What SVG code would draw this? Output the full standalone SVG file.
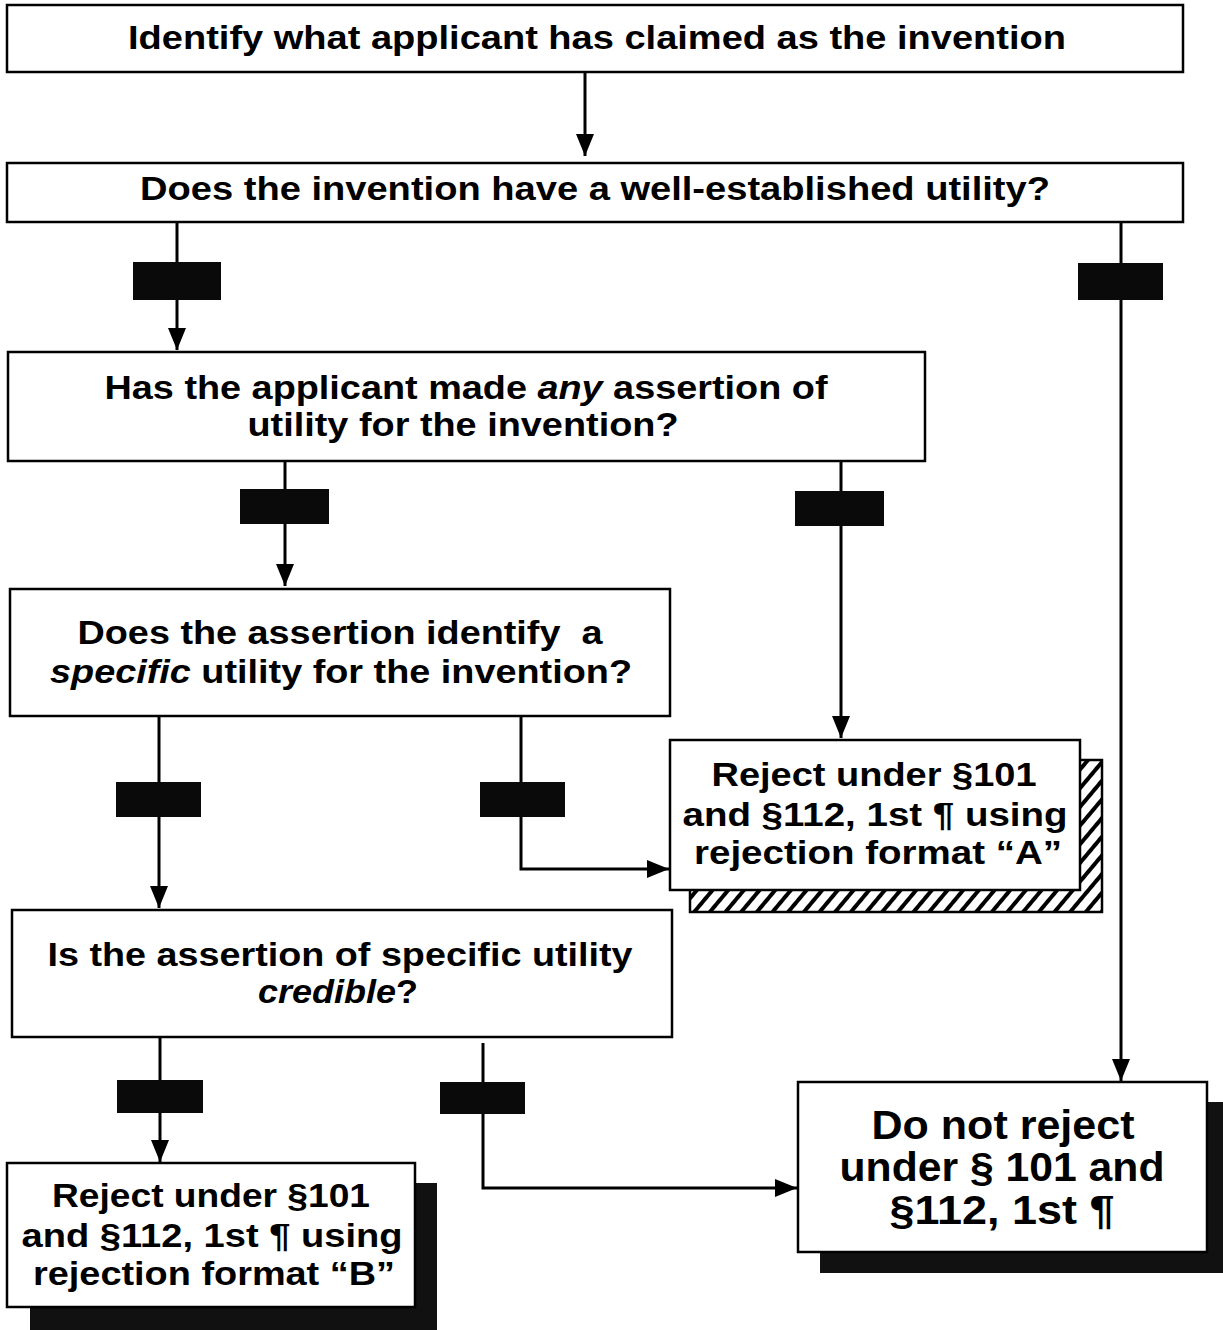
<svg xmlns="http://www.w3.org/2000/svg" width="1223" height="1330" viewBox="0 0 1223 1330">
<defs>
<style>
.box{fill:#fff;stroke:#000;stroke-width:2.5}
.t{font-family:"Liberation Sans",Arial,sans-serif;font-weight:bold;font-size:34px;fill:#000;text-anchor:middle}
.big{font-size:40px}
.ln{fill:none;stroke:#000;stroke-width:3}
.lbl{fill:#0a0a0a}
.sh{fill:#111}
</style>
<marker id="ah" markerUnits="userSpaceOnUse" markerWidth="24" markerHeight="18" refX="22" refY="9" orient="auto">
<path d="M0,0 L22,9 L0,18 Z" fill="#000"/>
</marker>
<pattern id="hatch" patternUnits="userSpaceOnUse" width="12" height="12" patternTransform="rotate(40)">
<rect width="12" height="12" fill="#fff"/>
<rect x="0" y="0" width="4" height="12" fill="#000"/>
</pattern>
</defs>
<rect width="1223" height="1330" fill="#fff"/>

<g id="connectors">
<path class="ln" d="M585,72 V156" marker-end="url(#ah)"/>
<path class="ln" d="M177,222 V350" marker-end="url(#ah)"/>
<path class="ln" d="M1121,222 V1081" marker-end="url(#ah)"/>
<path class="ln" d="M285,461 V586" marker-end="url(#ah)"/>
<path class="ln" d="M841,461 V738" marker-end="url(#ah)"/>
<path class="ln" d="M159,716 V908" marker-end="url(#ah)"/>
<path class="ln" d="M521,716 V869 H669" marker-end="url(#ah)"/>
<path class="ln" d="M160,1037 V1162" marker-end="url(#ah)"/>
<path class="ln" d="M483,1043 V1188 H797" marker-end="url(#ah)"/>
<rect class="lbl" x="133" y="262" width="88" height="38"/>
<rect class="lbl" x="1078" y="263" width="85" height="37"/>
<rect class="lbl" x="240" y="489" width="89" height="35"/>
<rect class="lbl" x="795" y="491" width="89" height="35"/>
<rect class="lbl" x="116" y="782" width="85" height="35"/>
<rect class="lbl" x="480" y="782" width="85" height="35"/>
<rect class="lbl" x="117" y="1080" width="86" height="33"/>
<rect class="lbl" x="440" y="1082" width="85" height="32"/>
</g>

<g id="n1">
<rect class="box" x="7" y="5" width="1176" height="67"/>
<text class="t" x="597" y="49" textLength="938" lengthAdjust="spacingAndGlyphs">Identify what applicant has claimed as the invention</text>
</g>
<g id="n2">
<rect class="box" x="7" y="163" width="1176" height="59"/>
<text class="t" x="595" y="200" textLength="910" lengthAdjust="spacingAndGlyphs">Does the invention have a well-established utility?</text>
</g>
<g id="n3">
<rect class="box" x="8" y="352" width="917" height="109"/>
<text class="t" x="466" y="399" textLength="723" lengthAdjust="spacingAndGlyphs">Has the applicant made <tspan font-style="italic">any</tspan> assertion of</text>
<text class="t" x="463" y="436" textLength="431" lengthAdjust="spacingAndGlyphs">utility for the invention?</text>
</g>
<g id="n4">
<rect class="box" x="10" y="589" width="660" height="127"/>
<text class="t" x="340" y="644" textLength="525" lengthAdjust="spacingAndGlyphs" xml:space="preserve">Does the assertion identify  a</text>
<text class="t" x="341" y="683" textLength="582" lengthAdjust="spacingAndGlyphs"><tspan font-style="italic">specific</tspan> utility for the invention?</text>
</g>
<g id="n5">
<rect x="690" y="760" width="412" height="152" fill="url(#hatch)" stroke="#000" stroke-width="2.5"/>
<rect class="box" x="670" y="740" width="410" height="150"/>
<text class="t" x="874" y="786" textLength="325" lengthAdjust="spacingAndGlyphs">Reject under §101</text>
<text class="t" x="875" y="826" textLength="385" lengthAdjust="spacingAndGlyphs">and §112, 1st ¶ using</text>
<text class="t" x="878" y="864" textLength="368" lengthAdjust="spacingAndGlyphs">rejection format “A”</text>
</g>
<g id="n6">
<rect class="box" x="12" y="910" width="660" height="127"/>
<text class="t" x="340" y="966" textLength="585" lengthAdjust="spacingAndGlyphs">Is the assertion of specific utility</text>
<text class="t" x="338" y="1003" textLength="160" lengthAdjust="spacingAndGlyphs"><tspan font-style="italic">credible</tspan>?</text>
</g>
<g id="n7">
<rect class="sh" x="30" y="1183" width="407" height="147"/>
<rect class="box" x="7" y="1163" width="408" height="144"/>
<text class="t" x="211" y="1207" textLength="318" lengthAdjust="spacingAndGlyphs">Reject under §101</text>
<text class="t" x="212" y="1247" textLength="381" lengthAdjust="spacingAndGlyphs">and §112, 1st ¶ using</text>
<text class="t" x="214" y="1285" textLength="362" lengthAdjust="spacingAndGlyphs">rejection format “B”</text>
</g>
<g id="n8">
<rect class="sh" x="820" y="1102" width="403" height="171"/>
<rect class="box" x="798" y="1082" width="409" height="170"/>
<text class="t big" x="1003" y="1139" textLength="263" lengthAdjust="spacingAndGlyphs">Do not reject</text>
<text class="t big" x="1002" y="1181" textLength="325" lengthAdjust="spacingAndGlyphs">under § 101 and</text>
<text class="t big" x="1002" y="1224" textLength="225" lengthAdjust="spacingAndGlyphs">§112, 1st ¶</text>
</g>
</svg>
